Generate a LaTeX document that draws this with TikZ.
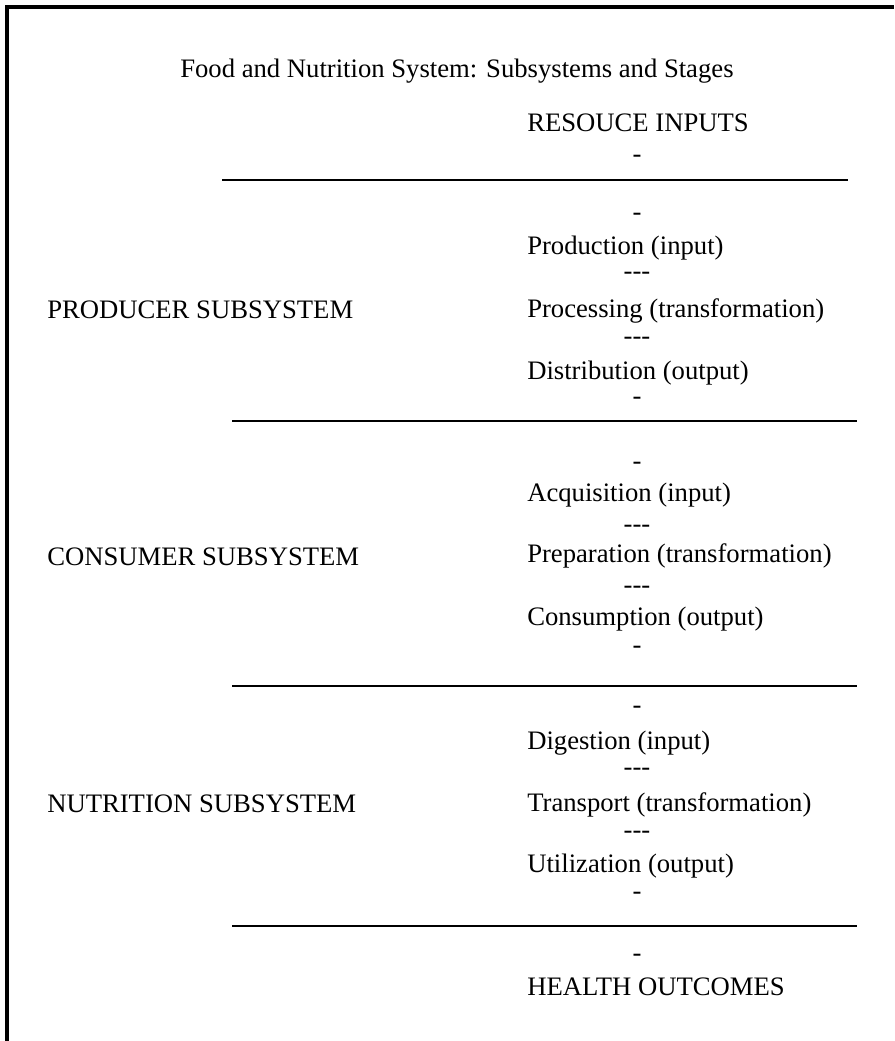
\documentclass[tikz,border=0pt]{standalone}
\usepackage{fontspec}
\setmainfont{Liberation Serif}
\usepackage{tikz}
\usetikzlibrary{positioning}
\tikzset{
  txt/.style={inner sep=0pt, font=\fontsize{20}{24}\selectfont},
  stage/.style={txt, anchor=base west},
  subsys/.style={txt, anchor=base west},
  dashmark/.style={txt, anchor=base},
  rule/.style={line width=1.6pt, black},
  frameline/.style={line width=2.3pt, black}
}
\newcommand{\tridash}{-\kern0pt-\kern0pt-}

\begin{document}
\begin{tikzpicture}[x=0.75pt, y=-0.75pt]
  \useasboundingbox (0,0) rectangle (894,1041);
  \draw[frameline] (7,1041) -- (7,7) -- (894,7);

  \node[stage] (title) at (180,78) {Food and Nutrition System: Subsystems and Stages};
  \node[stage] (inputs) at (527,132) {RESOUCE INPUTS};
  \node[dashmark] (d0) at (637,163) {-};
  \draw[rule] (222,180) -- (848,180);

  % producer
  \node[dashmark] (d1a) at (637,221) {-};
  \node[stage] (prod) at (527,254) {Production (input)};
  \node[dashmark] (d1b) at (637,279) {\tridash};
  \node[stage] (proc) at (527,317) {Processing (transformation)};
  \node[dashmark] (d1c) at (637,344) {\tridash};
  \node[stage] (dist) at (527,379) {Distribution (output)};
  \node[dashmark] (d1d) at (637,404) {-};
  \node[subsys] (producer) at (47,318) {PRODUCER SUBSYSTEM};
  \draw[rule] (232,421) -- (857,421);

  % consumer
  \node[dashmark] (d2a) at (637,469) {-};
  \node[stage] (acq) at (527,501) {Acquisition (input)};
  \node[dashmark] (d2b) at (637,532) {\tridash};
  \node[stage] (prep) at (527,562) {Preparation (transformation)};
  \node[dashmark] (d2c) at (637,593) {\tridash};
  \node[stage] (cons) at (527,625) {Consumption (output)};
  \node[dashmark] (d2d) at (637,653) {-};
  \node[subsys] (consumer) at (47,565) {CONSUMER SUBSYSTEM};
  \draw[rule] (232,686) -- (857,686);

  % nutrition
  \node[dashmark] (d3a) at (637,713) {-};
  \node[stage] (dig) at (527,749) {Digestion (input)};
  \node[dashmark] (d3b) at (637,775) {\tridash};
  \node[stage] (trans) at (527,811) {Transport (transformation)};
  \node[dashmark] (d3c) at (637,838) {\tridash};
  \node[stage] (util) at (527,872) {Utilization (output)};
  \node[dashmark] (d3d) at (637,899) {-};
  \node[subsys] (nutrition) at (47,812) {NUTRITION SUBSYSTEM};
  \draw[rule] (232,926) -- (857,926);

  \node[dashmark] (d4) at (637,961) {-};
  \node[stage] (health) at (527,995) {HEALTH OUTCOMES};
\end{tikzpicture}
\end{document}
